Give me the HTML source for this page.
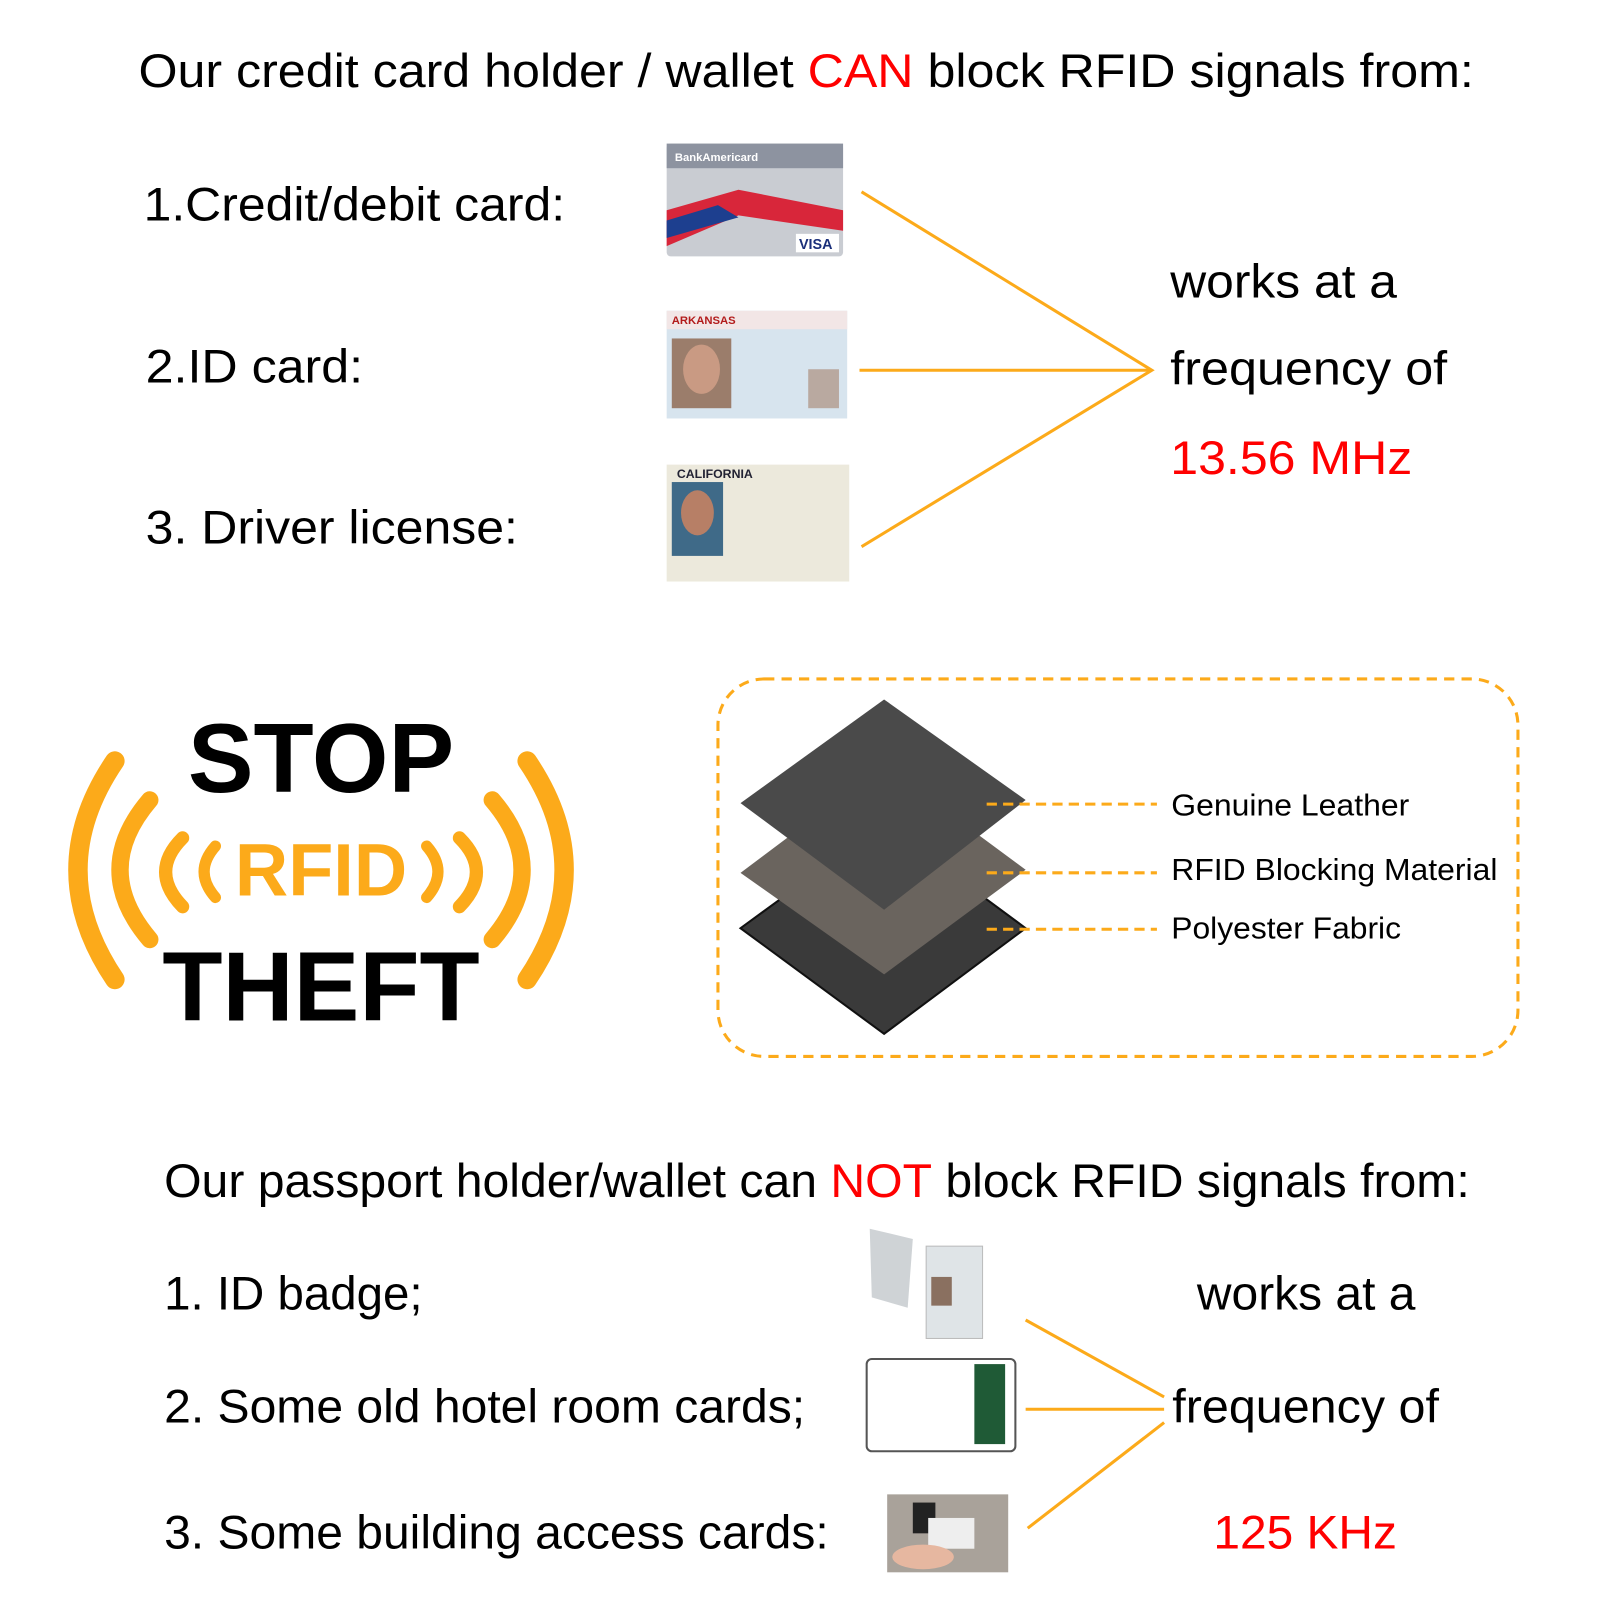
<!DOCTYPE html>
<html><head><meta charset="utf-8"><style>
html,body{margin:0;padding:0;background:#fff;width:1600px;height:1600px;overflow:hidden}
svg{display:block}
text{font-family:"Liberation Sans",Arial,sans-serif}
</style></head><body>
<svg width="1600" height="1600" viewBox="0 0 1560 1560" xmlns="http://www.w3.org/2000/svg">
<rect width="1560" height="1560" fill="#fff"/>
<text x="135" y="85" font-size="46" fill="#000" textLength="1302" lengthAdjust="spacingAndGlyphs">Our credit card holder / wallet <tspan fill="#f00">CAN</tspan> block RFID signals from:</text>
<text x="140" y="215" font-size="46" textLength="411" lengthAdjust="spacingAndGlyphs">1.Credit/debit card:</text>
<text x="142" y="373" font-size="46" textLength="212" lengthAdjust="spacingAndGlyphs">2.ID card:</text>
<text x="142" y="530" font-size="46" textLength="363" lengthAdjust="spacingAndGlyphs">3. Driver license:</text>
<!-- credit card -->
<rect x="650" y="140" width="172" height="110" rx="4" fill="#c9ccd2"/>
<rect x="650" y="140" width="172" height="24" fill="#8d93a0"/>
<text x="658" y="157" font-size="11" fill="#fff" font-weight="bold">BankAmericard</text>
<path d="M650,205 L720,185 L822,205 L822,225 L720,210 L650,240Z" fill="#d8263a"/>
<path d="M650,215 L700,200 L720,212 L650,232Z" fill="#1d3f8f"/>
<rect x="776" y="228" width="42" height="18" fill="#fff"/>
<text x="779" y="243" font-size="14" font-weight="bold" fill="#1a2f7a">VISA</text>
<!-- ID card -->
<rect x="650" y="303" width="176" height="105" fill="#d7e4ee"/>
<rect x="650" y="303" width="176" height="18" fill="#f2e6e6"/>
<text x="655" y="316" font-size="11" font-weight="bold" fill="#b21b1b">ARKANSAS</text>
<rect x="655" y="330" width="58" height="68" fill="#9b7d6b"/>
<ellipse cx="684" cy="360" rx="18" ry="24" fill="#c99a83"/>
<rect x="788" y="360" width="30" height="38" fill="#b9a9a0"/>
<!-- DL -->
<rect x="650" y="453" width="178" height="114" fill="#ece9dc"/>
<text x="660" y="466" font-size="12" font-weight="bold" fill="#223">CALIFORNIA</text>
<rect x="655" y="470" width="50" height="72" fill="#3f6a88"/>
<ellipse cx="680" cy="500" rx="16" ry="22" fill="#b77f66"/>
<!-- lines -->
<g stroke="#fcaa1a" stroke-width="3" fill="none">
<polyline points="840,187 1123,361 840,533"/>
<line x1="838" y1="361" x2="1123" y2="361"/>
</g>
<text x="1141" y="290" font-size="46" textLength="221" lengthAdjust="spacingAndGlyphs">works at a</text>
<text x="1141" y="375" font-size="46" textLength="270" lengthAdjust="spacingAndGlyphs">frequency of</text>
<text x="1141" y="462" font-size="46" fill="#f00" textLength="236" lengthAdjust="spacingAndGlyphs">13.56 MHz</text>
<!-- STOP RFID THEFT -->
<text x="313" y="772" font-size="96" font-weight="bold" text-anchor="middle">STOP</text>
<text x="313" y="995" font-size="96" font-weight="bold" text-anchor="middle">THEFT</text>
<text x="313" y="873" font-size="72" font-weight="bold" text-anchor="middle" fill="#fcaa1a">RFID</text>
<g stroke="#fcaa1a" fill="none" stroke-linecap="round">
<path d="M112,742 Q40,848 112,955" stroke-width="19"/>
<path d="M514,742 Q586,848 514,955" stroke-width="19"/>
<path d="M146,780 Q88,848 146,916" stroke-width="17"/>
<path d="M480,780 Q538,848 480,916" stroke-width="17"/>
<path d="M178,817 Q145,850 178,884" stroke-width="13"/>
<path d="M448,817 Q481,850 448,884" stroke-width="13"/>
<path d="M210,825 Q188,850 210,875" stroke-width="11"/>
<path d="M416,825 Q438,850 416,875" stroke-width="11"/>
</g>
<!-- dashed box -->
<rect x="700" y="662" width="780" height="368" rx="45" fill="none" stroke="#fcaa1a" stroke-width="3" stroke-dasharray="10,7"/>
<polygon points="862,803 1000,905 862,1008 722,905" fill="#3a3a3a" stroke="#111" stroke-width="2"/>
<polygon points="862,746 1000,848 862,950 722,851" fill="#6a645e"/>
<polygon points="862,682 1000,780 862,887 722,783" fill="#4a4a4a"/>
<g stroke="#fcaa1a" stroke-width="3" stroke-dasharray="10,6">
<line x1="962" y1="784" x2="1128" y2="784"/>
<line x1="962" y1="851" x2="1128" y2="851"/>
<line x1="962" y1="906" x2="1128" y2="906"/>
</g>
<text x="1142" y="795" font-size="30" textLength="232" lengthAdjust="spacingAndGlyphs">Genuine Leather</text>
<text x="1142" y="858" font-size="30" textLength="318" lengthAdjust="spacingAndGlyphs">RFID Blocking Material</text>
<text x="1142" y="915" font-size="30" textLength="224" lengthAdjust="spacingAndGlyphs">Polyester Fabric</text>
<!-- bottom -->
<text x="160" y="1167" font-size="46" textLength="1273" lengthAdjust="spacingAndGlyphs">Our passport holder/wallet can <tspan fill="#f00">NOT</tspan> block RFID signals from:</text>
<text x="160" y="1277" font-size="46" textLength="252" lengthAdjust="spacingAndGlyphs">1. ID badge;</text>
<text x="160" y="1387" font-size="46" textLength="625" lengthAdjust="spacingAndGlyphs">2. Some old hotel room cards;</text>
<text x="160" y="1510" font-size="46" textLength="648" lengthAdjust="spacingAndGlyphs">3. Some building access cards:</text>
<polygon points="848,1198 890,1208 885,1275 850,1265" fill="#cfd3d6"/>
<rect x="903" y="1215" width="55" height="90" fill="#dfe4e7" stroke="#bbb"/>
<rect x="908" y="1245" width="20" height="28" fill="#8a7060"/>
<rect x="845" y="1325" width="145" height="90" rx="5" fill="#fff" stroke="#555" stroke-width="2"/>
<rect x="950" y="1330" width="30" height="78" fill="#1f5a36"/>
<rect x="865" y="1457" width="118" height="76" fill="#a9a29a"/>
<rect x="890" y="1465" width="22" height="30" fill="#222"/>
<rect x="905" y="1480" width="45" height="30" fill="#eee"/>
<ellipse cx="900" cy="1518" rx="30" ry="12" fill="#e6b7a0"/>
<g stroke="#fcaa1a" stroke-width="3" fill="none">
<polyline points="1000,1287 1135,1362"/>
<line x1="1000" y1="1374" x2="1135" y2="1374"/>
<polyline points="1002,1490 1135,1387"/>
</g>
<text x="1167" y="1277" font-size="46" textLength="213" lengthAdjust="spacingAndGlyphs">works at a</text>
<text x="1143" y="1387" font-size="46" textLength="260" lengthAdjust="spacingAndGlyphs">frequency of</text>
<text x="1183" y="1510" font-size="46" fill="#f00" textLength="179" lengthAdjust="spacingAndGlyphs">125 KHz</text>
</svg>
</body></html>
